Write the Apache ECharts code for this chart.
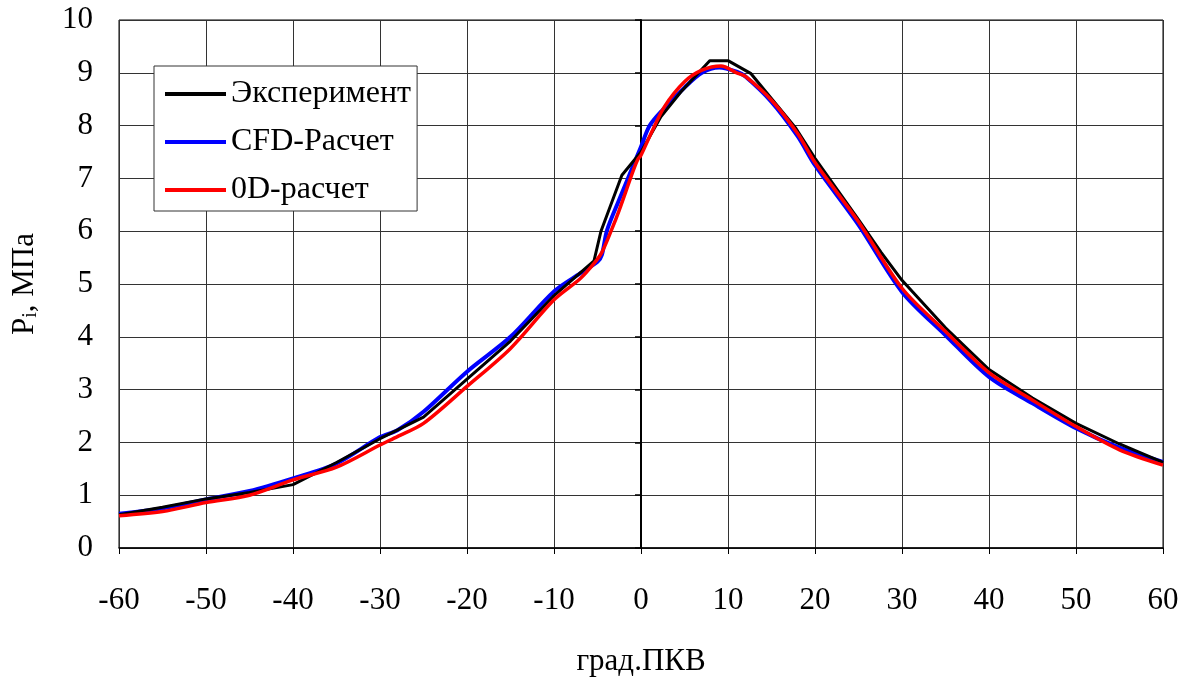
<!DOCTYPE html>
<html>
<head>
<meta charset="utf-8">
<script src="https://cdn.jsdelivr.net/npm/echarts@6/dist/echarts.min.js"></script>
<style>html,body{margin:0;padding:0;background:#fff}#c{width:1190px;height:677px}</style>
</head>
<body>
<div id="c"></div>
<script>
const xTicks = [-60,-50,-40,-30,-20,-10,0,10,20,30,40,50,60];
const yTicks = [0,1,2,3,4,5,6,7,8,9,10];
const seriesNames = ['Эксперимент','CFD-Расчет','0D-расчет'];

const expX = [-60,-55,-50,-45,-40,-35,-30,-25,-20,-15,-10,-5.4,-4.6,-2.2,-1,0,2.3,4.6,7.9,10,12.6,17.8,20,25,27.6,30,35,40,45,50,55,60];
const expY = [0.63,0.77,0.93,1.05,1.2,1.62,2.07,2.48,3.2,3.92,4.78,5.44,6.0,7.06,7.3,7.5,8.17,8.64,9.23,9.23,8.99,7.95,7.38,6.22,5.6,5.07,4.17,3.38,2.84,2.36,1.97,1.62];

const cfdX = [-60,-55,-50,-45,-40,-35,-30,-28,-25,-20,-15,-10,-7,-5,-4.5,-3.9,-2.5,-1,0,1,2.5,5,7,9,11,12,15,18,20,25,30,35,40,45,50,55,60];
const cfdY = [0.65,0.75,0.92,1.08,1.32,1.6,2.1,2.23,2.58,3.34,4.0,4.86,5.2,5.42,5.55,6.02,6.6,7.2,7.6,8.0,8.3,8.72,9.0,9.1,9.02,8.93,8.45,7.8,7.25,6.12,4.85,4.03,3.24,2.74,2.27,1.9,1.63];

const odX = [-60,-55,-50,-45,-40,-35,-30,-28,-25,-20,-15,-10,-7,-5.4,-4.5,-3.4,-2.5,-1,-0.4,0,1.15,2.7,5,7,9.2,11,12,15,18,20,25,30,35,40,45,50,55,60];
const odY = [0.61,0.69,0.86,1.0,1.29,1.53,1.95,2.11,2.36,3.06,3.78,4.7,5.1,5.39,5.6,6.02,6.4,7.1,7.35,7.44,7.85,8.36,8.83,9.05,9.13,9.0,8.93,8.48,7.85,7.3,6.18,4.92,4.1,3.32,2.8,2.3,1.86,1.57];

const zip = (a, b) => a.map((v, i) => [v, b[i]]);
const FONT = '"Liberation Serif", "Times New Roman", serif';

const chart = echarts.init(document.getElementById('c'));
chart.setOption({
  backgroundColor: '#fff',
  animation: false,
  textStyle: { fontFamily: FONT },
  grid: { left: 119, right: 27, top: 20, bottom: 129, show: true, borderColor: '#000', borderWidth: 1,
          containLabel: false, outerBoundsMode: 'none' },
  legend: {
    orient: 'vertical', left: 154, top: 66,
    backgroundColor: '#fff', borderColor: '#333', borderWidth: 1,
    padding: [12, 6, 5, 11], itemGap: 16,
    itemWidth: 61, itemHeight: 4, icon: 'rect',
    textStyle: { fontFamily: FONT, fontSize: 32, color: '#000', lineHeight: 32 },
    data: seriesNames
  },
  xAxis: {
    type: 'value', min: -60, max: 60, interval: 10,
    name: 'град.ПКВ', nameLocation: 'middle', nameGap: 98,
    nameTextStyle: { fontFamily: FONT, fontSize: 31, color: '#000' },
    axisLine: { show: true, lineStyle: { color: '#000', width: 1.5 } },
    axisTick: { show: true, inside: false, length: 6, lineStyle: { color: '#000' } },
    axisLabel: { margin: 37, fontFamily: FONT, fontSize: 31, color: '#000', formatter: v => String(v) },
    splitLine: { show: true, lineStyle: { color: '#333', width: 1 } }
  },
  yAxis: [{
    type: 'value', min: 0, max: 10, interval: 1, position: 'left',
    name: '{a|P}{b|i}{a|, МПа}', nameLocation: 'middle', nameGap: 78,
    nameTextStyle: {
      rich: {
        a: { fontFamily: FONT, fontSize: 31, color: '#000' },
        b: { fontFamily: FONT, fontSize: 20, color: '#000', verticalAlign: 'bottom', padding: [12, 0, 0, 0] }
      }
    },
    axisLine: { show: false },
    axisTick: { show: false },
    axisLabel: { margin: 26, fontFamily: FONT, fontSize: 31, color: '#000' },
    splitLine: { show: true, lineStyle: { color: '#333', width: 1 } }
  }, {
    type: 'value', min: 0, max: 10, interval: 1, position: 'left',
    axisLine: { show: true, onZero: true, onZeroAxisIndex: 0, lineStyle: { color: '#000', width: 2 } },
    axisTick: { show: true, inside: false, length: 6, lineStyle: { color: '#000', width: 1.5 } },
    axisLabel: { show: false },
    splitLine: { show: false }
  }],
  series: [{
    name: seriesNames[0], type: 'line', data: zip(expX, expY), z: 3,
    symbol: 'none', lineStyle: { color: '#000', width: 3 }, itemStyle: { color: '#000' }
  }, {
    name: seriesNames[1], type: 'line', data: zip(cfdX, cfdY), z: 2,
    symbol: 'none', smooth: 0.3, lineStyle: { color: '#0000ff', width: 4 }, itemStyle: { color: '#0000ff' }
  }, {
    name: seriesNames[2], type: 'line', data: zip(odX, odY), z: 4,
    symbol: 'none', smooth: 0.3, lineStyle: { color: '#ff0000', width: 3.5 }, itemStyle: { color: '#ff0000' }
  }]
});
</script>
</body>
</html>
